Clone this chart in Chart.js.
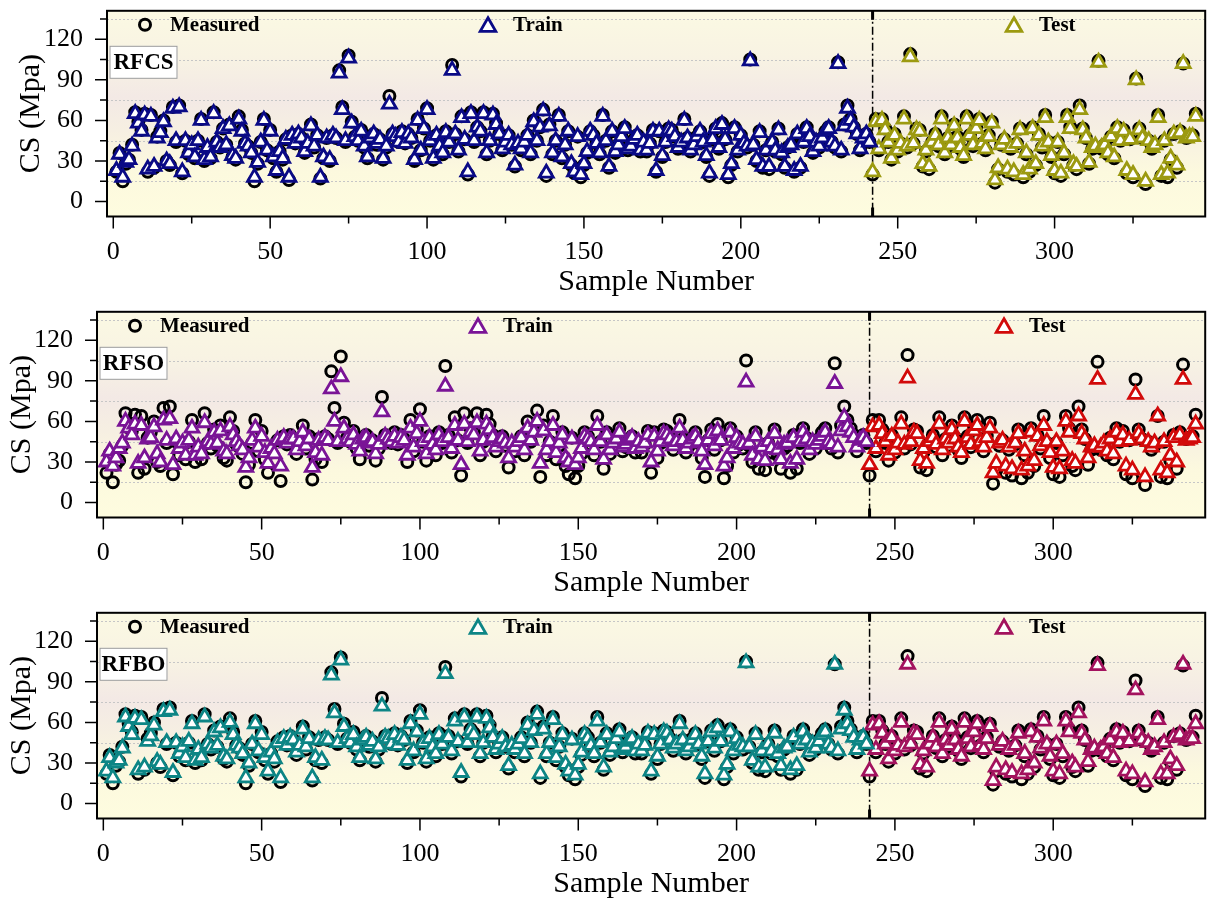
<!DOCTYPE html>
<html>
<head>
<meta charset="utf-8">
<script src="https://cdn.jsdelivr.net/npm/chart.js@4.4.1/dist/chart.umd.min.js"></script>
<style>
  body { margin: 0; background: #ffffff; overflow: hidden; }
  canvas { position: absolute; left: 0; }
</style>
</head>
<body>
<canvas id="p1" width="1216" height="300" style="top:0px"></canvas>
<canvas id="p2" width="1216" height="300" style="top:301px"></canvas>
<canvas id="p3" width="1216" height="300" style="top:602px"></canvas>
<script>
/* ---------- data ---------- */

// measured CS, samples 1..345 (1..241 train, 242..345 test)
const measured = [
  22,36,15,28,31,42,66,59,53,65, 22,64,25,48,52,60,30,27,70,44,
  71,21,45,35,42,32,45,61,30,39, 32,66,44,40,54,42,57,33,31,63,
  53,43,41,36,15,28,44,61,38,53, 32,22,37,31,46,16,49,43,50,47,
  36,43,57,40,49,17,32,47,30,49, 47,97,70,44,108,59,48,45,53,40,
  32,47,50,42,46,31,40,78,50,48, 44,52,43,50,47,30,61,38,54,69,
  45,31,49,40,35,52,44,101,50,37, 63,46,20,66,44,55,52,66,35,45,
  65,58,50,38,44,49,42,26,43,38, 44,49,35,60,45,55,68,19,57,35,
  45,64,32,42,52,27,21,48,18,27, 36,52,49,43,35,64,45,25,52,36,
  42,48,55,38,41,46,49,37,44,37, 43,53,22,52,33,44,54,53,48,39,
  44,61,47,37,42,48,52,44,33,19, 46,54,39,58,46,18,27,55,37,49,
  43,40,105,42,30,52,25,38,24,44, 37,54,35,25,40,42,22,50,25,44,
  55,48,36,44,40,47,52,55,44,40, 103,37,57,71,61,55,50,38,47,50,44,
  20,61,38,61,54,44,31,50,37,43, 63,40,109,43,54,53,26,37,24,44,
  50,41,63,35,47,42,57,48,39,33, 63,49,41,55,61,43,38,49,59,14,
  24,42,46,22,39,20,43,54,18,35, 22,55,27,50,40,64,44,33,21,44,
  19,35,64,55,27,24,71,54,47,28, 39,40,104,39,42,35,48,32,55,45,
  53,21,46,18,91,54,47,13,45,39, 42,64,19,45,18,31,50,25,52,102,
  47,48,49,65
];

const rfcsTrain = [
  23,35,18,29,31,41,65,58,52,64, 24,63,26,47,51,59,30,28,69,45,
  70,22,45,36,42,33,45,60,31,40, 33,65,44,40,54,42,56,34,32,61,
  52,43,41,36,18,29,44,60,38,52, 33,23,37,32,46,18,49,43,50,47,
  37,43,56,41,49,18,33,47,31,49, 47,95,68,45,106,58,48,45,52,41,
  33,47,50,43,46,32,41,72,50,48, 44,51,43,50,47,31,60,38,54,68,
  45,32,49,41,36,51,44,97,50,38, 62,46,22,65,45,55,52,65,36,45,
  64,57,50,39,44,49,42,27,43,39, 44,49,36,59,45,55,67,21,56,36,
  45,63,33,42,52,28,22,48,20,28, 37,52,49,43,36,63,45,26,52,37,
  42,48,54,39,41,46,49,38,44,38, 43,52,23,52,34,44,53,52,48,40,
  44,60,47,38,42,48,52,44,34,21, 46,54,40,57,46,20,28,54,38,49,
  43,41,104,42,31,51,26,38,26,44, 38,53,36,26,40,42,23,50,26,44,
  54,48,37,44,41,47,52,54,44,41, 102,38,56,69,60,55,50,39,47,50,44
];
const rfcsTest = [
  22,59,39,60,53,44,32,49,38,43, 61,41,107,43,53,52,28,38,26,44,
  49,42,61,36,47,42,56,47,40,34, 61,49,42,54,60,43,39,48,58,16,
  25,42,46,24,40,22,43,53,20,36, 24,54,28,49,41,62,44,34,23,44,
  21,36,62,54,28,26,68,53,47,29, 40,41,103,40,42,36,48,33,54,45,
  52,23,46,20,90,53,47,15,45,40, 42,62,20,45,21,32,50,27,51,102,
  47,48,48,63
];

const rfsoTrain = [
  30,38,27,33,40,44,60,55,50,58, 29,57,33,47,48,56,36,30,61,46,
  62,28,47,40,44,35,46,55,35,41, 36,59,45,43,52,44,53,38,36,56,
  50,45,42,39,26,33,46,55,41,49, 37,29,40,36,46,27,48,44,47,47,
  39,45,52,42,47,26,37,46,35,48, 46,84,60,45,93,55,47,45,50,43,
  38,47,48,44,45,36,43,67,49,47, 45,49,44,48,46,35,55,41,51,60,
  45,36,48,43,39,50,45,86,48,40, 57,46,28,58,45,52,50,59,38,46,
  58,54,48,41,45,47,44,33,44,41, 45,48,39,55,46,52,60,29,53,39,
  45,57,37,44,50,33,30,47,28,33, 40,49,47,45,39,57,45,32,50,39,
  44,47,52,41,43,46,48,40,45,41, 44,50,30,49,38,45,51,50,47,42,
  45,55,46,40,44,47,49,45,38,28, 46,51,42,53,46,27,33,52,40,48,
  44,43,89,44,35,49,32,41,31,45, 40,51,39,32,43,44,29,48,32,45,
  52,47,39,45,43,46,49,52,45,43, 88,41,53,63,56,52,48,41,46,48,45
];
const rfsoTest = [
  28,56,40,57,51,45,35,49,39,44, 58,43,92,45,52,51,31,40,29,45,
  48,43,58,39,47,44,54,47,41,37, 60,48,43,53,57,45,41,48,55,22,
  29,44,46,27,41,25,44,51,24,38, 27,52,31,49,42,57,45,37,26,45,
  25,38,60,52,31,29,64,51,47,33, 41,42,91,41,44,38,47,36,52,45,
  50,27,46,24,80,51,47,19,45,41, 44,64,24,45,22,35,48,30,50,91,
  46,47,48,58
];

const rfboTrain = [
  24,34,19,30,32,41,64,57,51,63, 25,62,27,46,50,58,31,29,68,45,
  69,23,45,37,42,34,46,59,32,40, 34,64,44,41,53,43,56,35,33,60,
  51,43,41,37,19,30,44,59,39,51, 34,24,38,33,45,19,48,43,49,47,
  38,43,55,42,48,19,34,47,32,48, 47,95,67,45,106,57,48,45,51,42,
  34,47,49,43,46,33,42,72,49,48, 44,51,43,49,47,32,59,39,53,66,
  45,33,48,42,37,51,44,96,49,39, 61,46,23,64,45,54,51,64,37,45,
  63,56,49,40,44,48,42,28,43,40, 44,48,37,58,45,54,66,22,55,37,
  45,62,34,42,51,29,24,47,21,29, 38,51,48,43,37,61,45,27,51,38,
  42,48,53,40,42,46,48,39,44,39, 43,52,24,51,35,44,53,52,47,41,
  44,59,47,39,42,47,51,44,35,22, 46,53,41,56,46,21,29,53,39,48,
  43,42,104,42,32,51,27,39,27,44, 39,52,37,28,41,42,25,49,28,44,
  53,47,38,44,41,46,51,53,44,41, 103,39,55,69,59,54,49,40,47,49,44
];
const rfboTest = [
  24,58,40,59,52,44,33,49,39,43, 60,42,103,44,52,51,29,39,27,44,
  49,42,60,37,47,43,55,47,40,35, 60,48,42,53,59,43,40,48,57,17,
  27,43,46,25,40,23,43,52,22,37, 25,53,30,49,41,61,44,35,24,44,
  22,37,61,53,30,27,67,52,47,31, 40,41,102,40,42,37,47,34,53,45,
  52,24,46,22,84,52,47,16,45,40, 42,62,22,45,22,33,49,28,51,103,
  47,48,48,59
];

const yTicks = [0, 30, 60, 90, 120];
const yMinor = [15, 45, 75, 105, 135];
const xTicks = [0, 50, 100, 150, 200, 250, 300];
const xMinor = [25, 75, 125, 175, 225, 275, 325];

/* ---------- drawing ---------- */

const SERIF = "'Liberation Serif', 'Times New Roman', serif";

function triPath(ctx, x, y, r) {
  ctx.beginPath();
  ctx.moveTo(x, y - r);
  ctx.lineTo(x + 0.866 * r, y + 0.5 * r);
  ctx.lineTo(x - 0.866 * r, y + 0.5 * r);
  ctx.closePath();
}

function makePanel(id, p) {
  const split = p.train.length + 1;

  const panelPlugin = {
    id: "panel_" + id,
    beforeDatasetsDraw(chart) {
      const { ctx, chartArea: a, scales } = chart;
      ctx.save();
      // background
      const g = ctx.createLinearGradient(0, a.top, 0, a.bottom);
      g.addColorStop(0, "#fbf9e3");
      g.addColorStop(0.22, "#f8f3e3");
      g.addColorStop(0.42, "#f3e9e5");
      g.addColorStop(0.58, "#f6efe2");
      g.addColorStop(0.78, "#fcf9de");
      g.addColorStop(1, "#fefcdf");
      ctx.fillStyle = g;
      ctx.fillRect(a.left, a.top, a.right - a.left, a.bottom - a.top);
      // dotted grid
      ctx.strokeStyle = "#c6c6c6";
      ctx.lineWidth = 1;
      ctx.setLineDash([2, 2]);
      yMinor.forEach(v => {
        const y = Math.round(scales.y.getPixelForValue(v)) + 0.5;
        ctx.beginPath();
        ctx.moveTo(a.left, y);
        ctx.lineTo(a.right, y);
        ctx.stroke();
      });
      // train / test divider
      const dx = scales.x.getPixelForValue(split);
      ctx.strokeStyle = "#000";
      ctx.lineWidth = 1.5;
      ctx.setLineDash([8, 3, 2, 3]);
      ctx.beginPath();
      ctx.moveTo(dx, a.top);
      ctx.lineTo(dx, a.bottom);
      ctx.stroke();
      ctx.setLineDash([]);
      ctx.fillStyle = "#000";
      ctx.fillRect(dx - 1.5, a.top, 3, 9);
      ctx.fillRect(dx - 1.5, a.bottom - 9, 3, 9);
      ctx.restore();
    },
    afterDraw(chart) {
      const { ctx, chartArea: a, scales } = chart;
      ctx.save();
      // frame
      ctx.strokeStyle = "#000";
      ctx.lineWidth = 2;
      ctx.strokeRect(a.left, a.top, a.right - a.left, a.bottom - a.top);
      // tick marks
      ctx.lineWidth = 1.5;
      ctx.beginPath();
      yTicks.forEach(v => {
        const y = scales.y.getPixelForValue(v);
        ctx.moveTo(a.left - 12, y); ctx.lineTo(a.left, y);
      });
      yMinor.forEach(v => {
        const y = scales.y.getPixelForValue(v);
        ctx.moveTo(a.left - 7, y); ctx.lineTo(a.left, y);
      });
      xTicks.forEach(v => {
        const x = scales.x.getPixelForValue(v);
        ctx.moveTo(x, a.bottom); ctx.lineTo(x, a.bottom + 12);
      });
      xMinor.forEach(v => {
        const x = scales.x.getPixelForValue(v);
        ctx.moveTo(x, a.bottom); ctx.lineTo(x, a.bottom + 7);
      });
      ctx.stroke();

      // legend inside plot
      const ly = a.top + 14;
      ctx.font = "bold 21px " + SERIF;
      ctx.textBaseline = "middle";
      ctx.textAlign = "left";
      ctx.lineWidth = 3;
      ctx.strokeStyle = "#000";
      ctx.beginPath();
      ctx.arc(a.left + 38, ly, 5.5, 0, Math.PI * 2);
      ctx.stroke();
      ctx.fillStyle = "#000";
      ctx.fillText("Measured", a.left + 63, ly + 1);

      ctx.lineWidth = 2.8;
      triPath(ctx, a.left + 381, ly + 2, 9);
      ctx.fillStyle = "#fff"; ctx.fill();
      ctx.strokeStyle = p.trainColor; ctx.stroke();
      ctx.fillStyle = "#000";
      ctx.fillText("Train", a.left + 406, ly + 1);

      triPath(ctx, a.left + 907, ly + 2, 9);
      ctx.fillStyle = "#fff"; ctx.fill();
      ctx.strokeStyle = p.testColor; ctx.stroke();
      ctx.fillStyle = "#000";
      ctx.fillText("Test", a.left + 932, ly + 1);

      // model label box
      const bx = a.left + 2.5, by = a.top + 35;
      ctx.fillStyle = "#fff";
      ctx.fillRect(bx, by, 68, 33);
      ctx.strokeStyle = "#9a9a9a";
      ctx.lineWidth = 1;
      ctx.strokeRect(bx + 0.5, by + 0.5, 67, 32);
      ctx.fillStyle = "#000";
      ctx.font = "bold 23px " + SERIF;
      ctx.textAlign = "center";
      ctx.fillText(p.name, bx + 34, by + 17.5);
      ctx.restore();
    }
  };

  new Chart(document.getElementById(id), {
    type: "scatter",
    data: {
      datasets: [
        {
          label: "Train",
          data: p.train.map((v, i) => ({ x: i + 1, y: v })),
          pointStyle: "triangle",
          pointRadius: 8,
          borderWidth: 2.8,
          borderColor: p.trainColor,
          backgroundColor: "#ffffff",
          order: 1
        },
        {
          label: "Test",
          data: p.test.map((v, i) => ({ x: i + split, y: v })),
          pointStyle: "triangle",
          pointRadius: 8,
          borderWidth: 2.8,
          borderColor: p.testColor,
          backgroundColor: "#ffffff",
          order: 1
        },
        {
          label: "Measured",
          data: measured.map((v, i) => ({ x: i + 1, y: v })),
          pointStyle: "circle",
          pointRadius: 5.5,
          borderWidth: 3,
          borderColor: "#000000",
          backgroundColor: "rgba(0,0,0,0)",
          order: 2
        }
      ]
    },
    options: {
      responsive: false,
      animation: false,
      devicePixelRatio: 1,
      layout: { padding: { top: 10.5, right: p.padRight, left: 0, bottom: 0 } },
      plugins: { legend: { display: false }, tooltip: { enabled: false } },
      scales: {
        x: {
          type: "linear",
          min: -2,
          max: 348,
          grid: { display: false, drawTicks: false },
          border: { display: false },
          afterBuildTicks: s => { s.ticks = xTicks.map(v => ({ value: v })); },
          afterFit: s => { s.height = 83.5; s.paddingLeft = 0; s.paddingRight = 0; },
          ticks: { padding: 20, color: "#000", maxRotation: 0, autoSkip: false,
                   font: { family: SERIF, size: 26 } },
          title: { display: true, text: "Sample Number", color: "#000",
                   font: { family: SERIF, size: 30 }, padding: { top: 0, bottom: 0 } }
        },
        y: {
          type: "linear",
          min: -11,
          max: 141,
          grid: { display: false, drawTicks: false },
          border: { display: false },
          afterBuildTicks: s => { s.ticks = yTicks.map(v => ({ value: v })); },
          afterFit: s => { s.width = p.left; s.paddingTop = 0; s.paddingBottom = 0; },
          ticks: { padding: 24, color: "#000", font: { family: SERIF, size: 26 } },
          title: { display: true, text: "CS (Mpa)", color: "#000",
                   font: { family: SERIF, size: 30 }, padding: { top: p.titlePad, bottom: 0 } }
        }
      }
    },
    plugins: [panelPlugin]
  });
}

makePanel("p1", { name: "RFCS", train: rfcsTrain, test: rfcsTest,
  trainColor: "#0a0a86", testColor: "#9c9a10", left: 107, padRight: 3, titlePad: 13 });
makePanel("p2", { name: "RFSO", train: rfsoTrain, test: rfsoTest,
  trainColor: "#7a1496", testColor: "#d20a0a", left: 97, padRight: 8, titlePad: 4 });
makePanel("p3", { name: "RFBO", train: rfboTrain, test: rfboTest,
  trainColor: "#0d8585", testColor: "#a3125e", left: 97, padRight: 8, titlePad: 4 });
</script>
</body>
</html>
